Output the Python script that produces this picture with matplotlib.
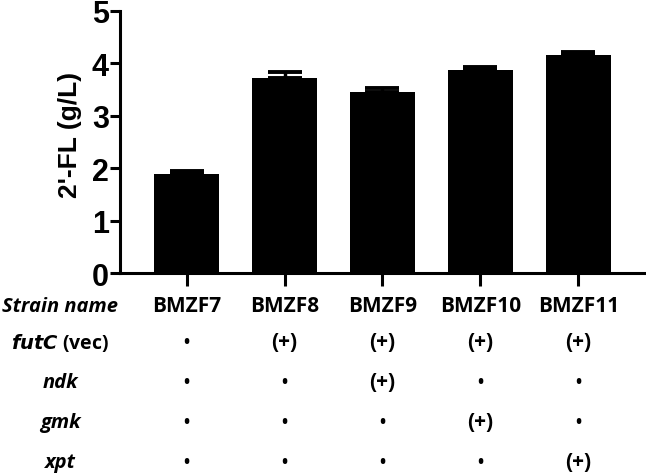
"""2'-FL titre of engineered BMZF strains with construct table."""

import matplotlib
matplotlib.use("Agg")
import matplotlib.pyplot as plt
from matplotlib.transforms import blended_transform_factory

strains = ["BMZF7", "BMZF8", "BMZF9", "BMZF10", "BMZF11"]
titre = [1.89, 3.72, 3.46, 3.88, 4.16]
titre_sd = [0.06, 0.11, 0.08, 0.05, 0.05]

row_names = ["futC (vec)", "ndk", "gmk", "xpt"]
futc = [False, True, True, True, True]
ndk = [False, False, True, False, False]
gmk = [False, False, False, True, False]
xpt = [False, False, False, False, True]

plt.rcParams["font.family"] = ["Liberation Sans", "DejaVu Sans"]

fig = plt.figure(figsize=(6.46, 4.77), dpi=100)
ax = fig.add_axes([120 / 646, 1 - 274 / 477, 524 / 646, 262 / 477])

x = list(range(len(strains)))
ax.bar(x, titre, width=0.67, color="black", zorder=2)
ax.errorbar(x, titre, yerr=[[0] * len(x), titre_sd], fmt="none", ecolor="black",
            elinewidth=2.5, capsize=12, capthick=2.8, zorder=3)

ax.set_xlim(-0.68, 4.67)
ax.set_ylim(0, 5)
ax.set_yticks([0, 1, 2, 3, 4, 5])
ax.set_xticks(x)
ax.set_xticklabels([])
for side in ("top", "right"):
    ax.spines[side].set_visible(False)
for side in ("left", "bottom"):
    ax.spines[side].set_linewidth(2.2)
ax.tick_params(axis="y", length=7, width=2.2, pad=1, labelsize=22)
ax.tick_params(axis="x", length=9, width=2.2)
for lab in ax.get_yticklabels():
    lab.set_fontweight("bold")
ax.set_ylabel("2'-FL (g/L)", fontsize=19, fontweight="bold")
ax.yaxis.set_label_coords(-0.072, 0.53)

# construct table under the bars
tfont = ["Open Sans", "DejaVu Sans"]
trans = blended_transform_factory(ax.transData, fig.transFigure)
row_y = [1 - 343 / 477, 1 - 383 / 477, 1 - 423 / 477, 1 - 463 / 477]
name_y = 1 - 307 / 477
label_x = 60 / 646

fig.text(label_x, name_y, "Strain name", ha="center", va="center", fontsize=14.5,
         fontweight="bold", style="italic", family=tfont)
for xi, s in zip(x, strains):
    ax.text(xi, name_y, s, transform=trans, ha="center", va="center",
            fontsize=15, fontweight="bold", family=tfont)

fig.text(label_x, row_y[0], r"$\mathbfit{futC}$ (vec)", ha="center", va="center",
         fontsize=14, fontweight="bold", family=tfont)
for name, yy in zip(row_names[1:], row_y[1:]):
    fig.text(label_x, yy, name, ha="center", va="center", fontsize=14.5,
             fontweight="bold", style="italic", family=tfont)

for flags, yy in zip([futc, ndk, gmk, xpt], row_y):
    for xi, on in zip(x, flags):
        if on:
            ax.text(xi, yy, "(+)", transform=trans, ha="center", va="center",
                    fontsize=15, fontweight="bold", family=tfont)
        else:
            ax.text(xi, yy, "•", transform=trans, ha="center", va="center",
                    fontsize=12, fontweight="bold", family=tfont)

fig.savefig("out.png", dpi=100)
